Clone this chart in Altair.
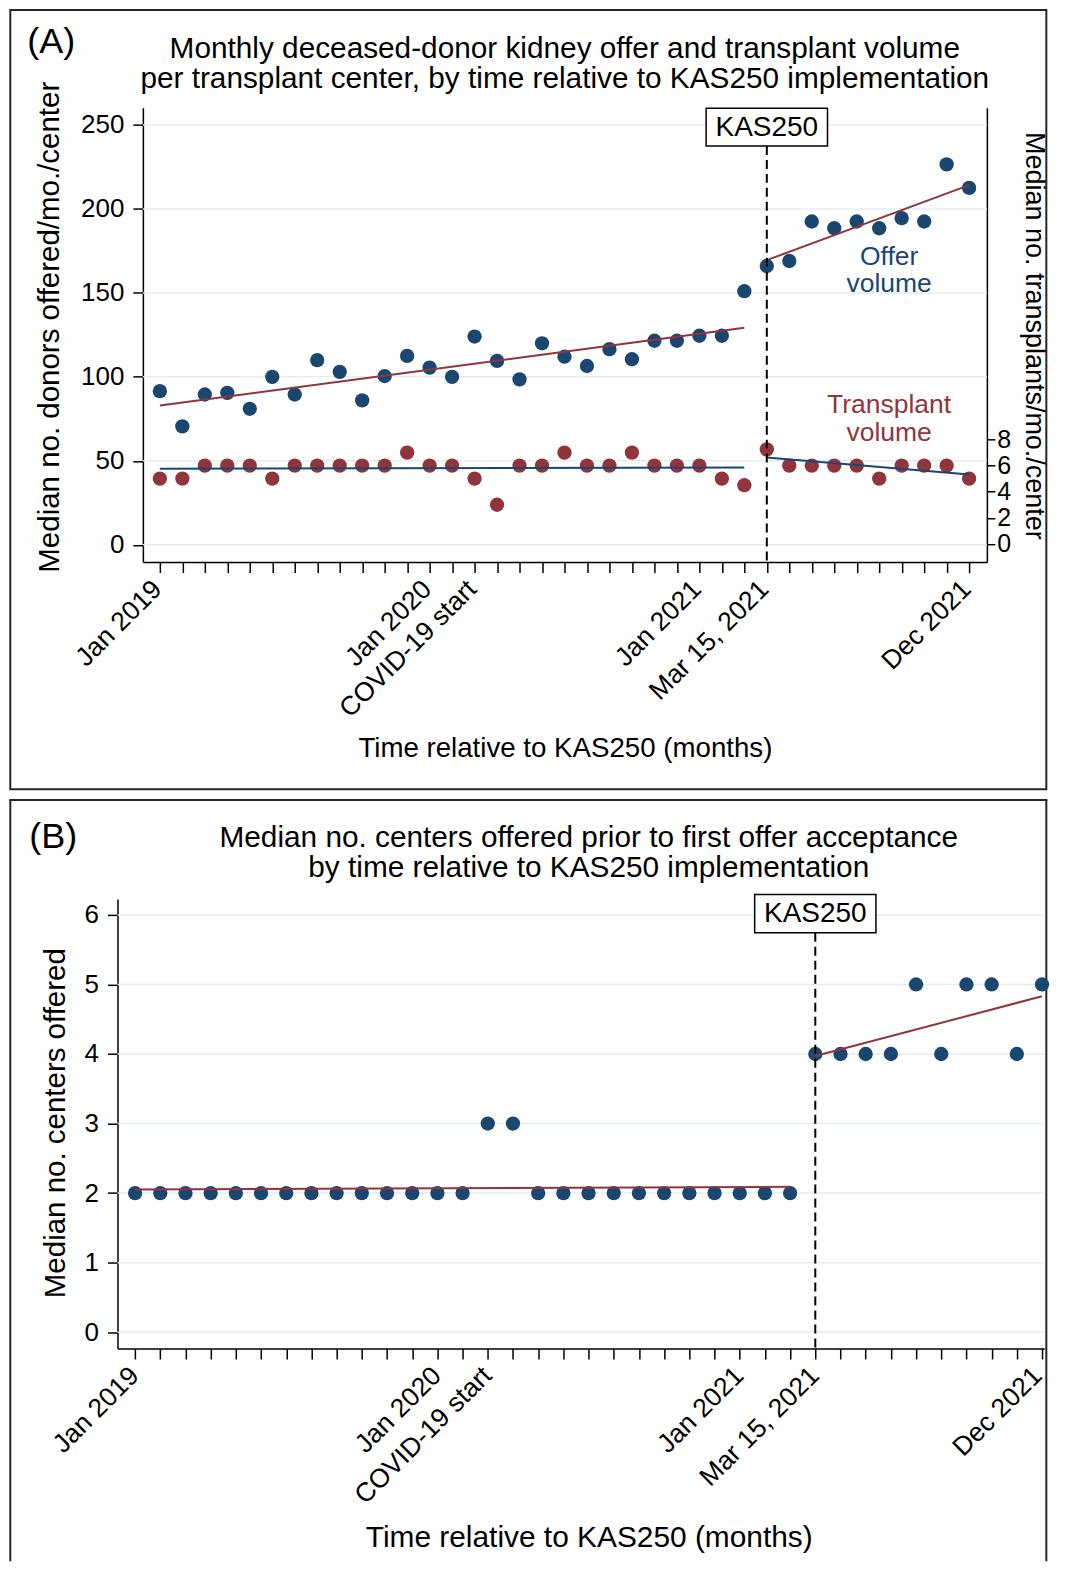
import altair as alt
import pandas as pd

# ---------------- data ----------------
months = [-27, -26, -25, -24, -23, -22, -21, -20, -19, -18, -17, -16, -15, -14,
          -13, -12, -11, -10, -9, -8, -7, -6, -5, -4, -3, -2, -1,
          0, 1, 2, 3, 4, 5, 6, 7, 8, 9]
offer_volume = [91.5, 70.5, 89.5, 90.5, 81.0, 100.0, 89.5, 110.0, 103.0, 86.0,
                100.5, 112.5, 105.5, 100.0, 124.0, 109.5, 98.5, 120.0, 112.0,
                106.5, 116.5, 110.5, 121.5, 121.5, 124.5, 124.5, 151.0,
                166.0, 169.0, 192.5, 188.5, 192.5, 188.5, 194.5, 192.5, 226.5, 212.5]
transplant_volume = [5, 5, 6, 6, 6, 5, 6, 6, 6, 6, 6, 7, 6, 6, 5, 3, 6, 6, 7, 6,
                     6, 7, 6, 6, 6, 5, 4.5, 7.25, 6, 6, 6, 6, 5, 6, 6, 6, 5]
centers_offered = [2, 2, 2, 2, 2, 2, 2, 2, 2, 2, 2, 2, 2, 2, 3, 3, 2, 2, 2, 2,
                   2, 2, 2, 2, 2, 2, 2, 4, 4, 4, 4, 5, 4, 5, 5, 4, 5]

fit_month = [-27, -1, 0, 9]
fit_period = ["pre", "pre", "post", "post"]
offer_fit = [83.0, 129.2, 169.5, 214.2]
transplant_fit = [5.77, 5.85, 6.62, 5.33]
centers_fit = [2.05, 2.09, 3.97, 4.83]

label_months = [-27, -15, -13, -3, 0, 9]
label_texts = ["Jan 2019", "Jan 2020", "COVID-19 start", "Jan 2021", "Mar 15, 2021", "Dec 2021"]
left_ticks = [0, 50, 100, 150, 200, 250]
right_ticks = [0, 2, 4, 6, 8]
b_ticks = [0, 1, 2, 3, 4, 5, 6]

# ---------------- style ----------------
FONT = "Liberation Sans"
NAVY = "#1a476f"
MAROON = "#90353b"
GRID = "#e4edf0"
FRAME = "#262626"
PT = 205

# panel A geometry (plot area)
AW, AH = 844.8, 454.8
A_XDOM = [-27.756, 9.79]
A_YL_DOM = [-10.23, 260.3]
A_YR_DOM = [-1.396, 33.48]
# panel B geometry
BW, BH = 902.3, 450
B_XRANGE = [-25.4, 902.3]
B_XDOM = [-27.698, 9.091]
B_YDOM = [-0.234, 6.23]
RIGHT_EDGE = 904.3


def lab_expr(vals, texts):
    expr = "''"
    for v, t in zip(reversed(vals), reversed(texts)):
        expr = "datum.value == %s ? '%s' : (%s)" % (v, t, expr)
    return expr


one = pd.DataFrame({"k": [0]})
dfA = pd.DataFrame({"month": months, "offer": offer_volume, "transplant": transplant_volume})
dfFit = pd.DataFrame({"month": fit_month, "period": fit_period, "offer": offer_fit,
                      "transplant": transplant_fit, "centers": centers_fit})
dfB = pd.DataFrame({"month": months, "centers": centers_offered})

# ================= Panel A =================
xA = alt.X("month:Q", scale=alt.Scale(domain=A_XDOM, nice=False, zero=False),
           axis=alt.Axis(values=months, tickCount=60,
                         labelExpr=lab_expr(label_months, label_texts),
                         labelAngle=315, labelAlign="right", labelBaseline="top",
                         labelPadding=3, labelOffset=-12, labelOverlap=False, labelFlush=False,
                         labelLimit=500, labelFontSize=26.5, tickSize=10.5,
                         title="Time relative to KAS250 (months)", titleY=195,
                         titleBaseline="alphabetic", titleFontSize=27.7))
yL = alt.Y("offer:Q", scale=alt.Scale(domain=A_YL_DOM, nice=False, zero=False),
           axis=alt.Axis(values=left_ticks, format="d", tickSize=10, labelPadding=9,
                         title="Median no. donors offered/mo./center", titleAngle=270,
                         titleAlign="center", titleBaseline="alphabetic",
                         titleX=-84, titleY=219.3))
yR = alt.Y("transplant:Q", scale=alt.Scale(domain=A_YR_DOM, nice=False, zero=False),
           axis=alt.Axis(orient="right", values=right_ticks, format="d", tickSize=8,
                         labelPadding=2, labelFontSize=25,
                         title="Median no. transplants/mo./center", titleAngle=90,
                         titleAlign="center", titleBaseline="alphabetic",
                         titleFontSize=27, titleX=38.9, titleY=228))

a_border = alt.Chart(one).mark_rect(fillOpacity=0, stroke=FRAME, strokeWidth=2).encode(
    x=alt.value(-132.7), x2=alt.value(RIGHT_EDGE), y=alt.value(-97.7), y2=alt.value(682.3))
a_grid = alt.Chart(pd.DataFrame({"offer": left_ticks})).mark_rule(
    color=GRID, strokeWidth=1.5).encode(y=yL, x=alt.value(0), x2=alt.value(AW))
a_pts = alt.Chart(dfA).mark_circle(size=PT, opacity=1, color=NAVY).encode(x=xA, y=yL)
a_fit = alt.Chart(dfFit).mark_line(color=MAROON, strokeWidth=2).encode(
    x=xA, y=yL, detail="period:N")
a_anno = alt.Chart(pd.DataFrame({"month": [5.44], "offer": [171.1],
                                 "t": ["Offer\nvolume"]})).mark_text(
    fontSize=26.5, color=NAVY, baseline="middle", align="center", lineBreak="\n",
    lineHeight=26.5).encode(x=xA, y=yL, text="t:N")
a_t1 = alt.Chart(one).mark_text(fontSize=29.8, align="center", baseline="alphabetic").encode(
    x=alt.value(422.3), y=alt.value(-49.7),
    text=alt.value("Monthly deceased-donor kidney offer and transplant volume"))
a_t2 = alt.Chart(one).mark_text(fontSize=29.8, align="center", baseline="alphabetic").encode(
    x=alt.value(422.3), y=alt.value(-19.7),
    text=alt.value("per transplant center, by time relative to KAS250 implementation"))
a_tag = alt.Chart(one).mark_text(fontSize=36, align="left", baseline="alphabetic").encode(
    x=alt.value(-115.7), y=alt.value(-54.5), text=alt.value("(A)"))

left_A = alt.layer(a_border, a_grid, a_pts, a_fit, a_anno, a_t1, a_t2, a_tag)

r_pts = alt.Chart(dfA).mark_circle(size=PT, opacity=1, color=MAROON).encode(x=xA, y=yR)
r_fit = alt.Chart(dfFit).mark_line(color=NAVY, strokeWidth=2).encode(
    x=xA, y=yR, detail="period:N")
r_anno = alt.Chart(pd.DataFrame({"month": [5.44], "transplant": [10.64],
                                 "t": ["Transplant\nvolume"]})).mark_text(
    fontSize=26.5, color=MAROON, baseline="middle", align="center", lineBreak="\n",
    lineHeight=28).encode(x=xA, y=yR, text="t:N")
a_rule = alt.Chart(one).mark_rule(color="black", strokeWidth=2, strokeDash=[9, 5]).encode(
    x=alt.datum(0), y=alt.value(38.3), y2=alt.value(AH))
a_box = alt.Chart(one).mark_rect(fill="white", stroke="black", strokeWidth=1.5).encode(
    x=alt.datum(-2.7), x2=alt.datum(2.7), y=alt.value(0.5), y2=alt.value(38.3))
a_kas = alt.Chart(one).mark_text(fontSize=28, align="center", baseline="middle").encode(
    x=alt.datum(0), y=alt.value(20), text=alt.value("KAS250"))

right_A = alt.layer(r_pts, r_fit, r_anno, a_rule, a_box, a_kas)

panelA = alt.layer(left_A, right_A).resolve_scale(y="independent").properties(width=AW, height=AH)

# ================= Panel B =================
xB = alt.X("month:Q", scale=alt.Scale(domain=B_XDOM, range=B_XRANGE, nice=False, zero=False),
           axis=alt.Axis(values=months, tickCount=60,
                         labelExpr=lab_expr(label_months, label_texts),
                         labelAngle=315, labelAlign="right", labelBaseline="top",
                         labelPadding=3, labelOverlap=False, labelFlush=False,
                         labelOffset=alt.condition("datum.value == 9", alt.value(-14), alt.value(-10)),
                         labelLimit=500, labelFontSize=26.5, tickSize=10.5,
                         title="Time relative to KAS250 (months)", titleY=198,
                         titleX=446.3, titleBaseline="alphabetic", titleFontSize=29.9))
yB = alt.Y("centers:Q", scale=alt.Scale(domain=B_YDOM, nice=False, zero=False),
           axis=alt.Axis(values=b_ticks, format="d", offset=25.4, tickSize=10, labelPadding=9,
                         title="Median no. centers offered", titleAngle=270,
                         titleAlign="center", titleBaseline="alphabetic",
                         titleX=-53, titleY=224))

B_BOTTOM = 663
b_left = alt.Chart(one).mark_rule(color=FRAME, strokeWidth=2).encode(
    x=alt.value(-132.7), y=alt.value(-99), y2=alt.value(B_BOTTOM))
b_right = alt.Chart(one).mark_rule(color=FRAME, strokeWidth=2).encode(
    x=alt.value(RIGHT_EDGE), y=alt.value(-99), y2=alt.value(B_BOTTOM))
b_top = alt.Chart(one).mark_rule(color=FRAME, strokeWidth=2).encode(
    y=alt.value(-99), x=alt.value(-133.7), x2=alt.value(RIGHT_EDGE + 1))
b_grid = alt.Chart(pd.DataFrame({"centers": b_ticks})).mark_rule(
    color=GRID, strokeWidth=1.5).encode(y=yB, x=alt.value(B_XRANGE[0]), x2=alt.value(B_XRANGE[1]))
b_pts = alt.Chart(dfB).mark_circle(size=PT, opacity=1, color=NAVY).encode(x=xB, y=yB)
b_fit = alt.Chart(dfFit).mark_line(color=MAROON, strokeWidth=2).encode(
    x=xB, y=yB, detail="period:N")
b_rule = alt.Chart(one).mark_rule(color="black", strokeWidth=2, strokeDash=[9, 5]).encode(
    x=alt.datum(0), y=alt.value(34), y2=alt.value(BH))
b_box = alt.Chart(one).mark_rect(fill="white", stroke="black", strokeWidth=1.5).encode(
    x=alt.datum(-2.407), x2=alt.datum(2.407), y=alt.value(-4.3), y2=alt.value(34))
b_kas = alt.Chart(one).mark_text(fontSize=28, align="center", baseline="middle").encode(
    x=alt.datum(0), y=alt.value(15), text=alt.value("KAS250"))
b_t1 = alt.Chart(one).mark_text(fontSize=29.8, align="center", baseline="alphabetic").encode(
    x=alt.value(446.3), y=alt.value(-52),
    text=alt.value("Median no. centers offered prior to first offer acceptance"))
b_t2 = alt.Chart(one).mark_text(fontSize=29.8, align="center", baseline="alphabetic").encode(
    x=alt.value(446.3), y=alt.value(-22),
    text=alt.value("by time relative to KAS250 implementation"))
b_tag = alt.Chart(one).mark_text(fontSize=36, align="left", baseline="alphabetic").encode(
    x=alt.value(-113.7), y=alt.value(-50.5), text=alt.value("(B)"))

panelB = alt.layer(b_left, b_right, b_top, b_grid, b_pts, b_fit, b_rule, b_box, b_kas,
                   b_t1, b_t2, b_tag).properties(width=BW, height=BH)

chart = alt.vconcat(panelA, panelB, spacing=8).properties(
    padding=0, background="white"
).configure_view(strokeWidth=0).configure_axis(
    labelFont=FONT, titleFont=FONT, labelFontSize=26, titleFontSize=29.5,
    titleFontWeight="normal", labelColor="black", titleColor="black",
    domainColor="black", tickColor="black", domainWidth=1.5, tickWidth=1.5, grid=False
).configure_text(font=FONT, color="black")

chart.save("out.html", embed_options={"renderer": "svg", "actions": False})
